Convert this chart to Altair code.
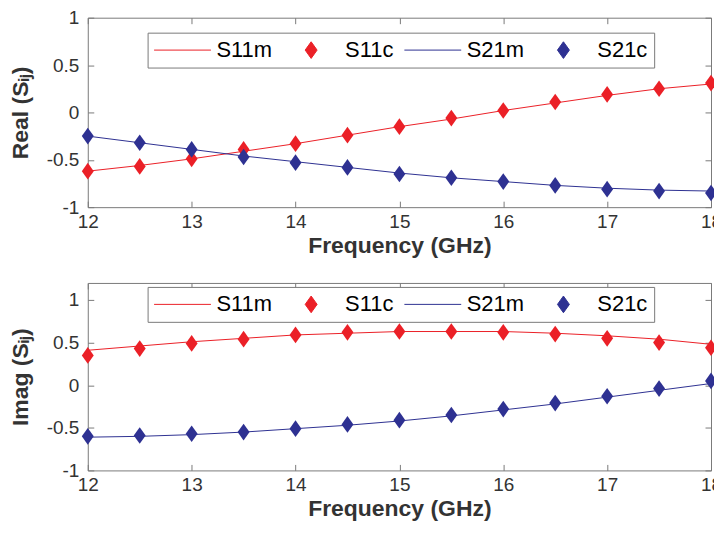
import altair as alt
import pandas as pd

# ---- data ----
freq = [12.0, 12.5, 13.0, 13.5, 14.0, 14.5, 15.0, 15.5, 16.0, 16.5, 17.0, 17.5, 18.0]

real_s11_meas = [-0.62, -0.56, -0.49, -0.41, -0.33, -0.24, -0.15, -0.07, 0.02, 0.10, 0.18, 0.25, 0.30]
real_s11_calc = [-0.62, -0.57, -0.49, -0.39, -0.33, -0.24, -0.15, -0.06, 0.02, 0.11, 0.19, 0.25, 0.31]
real_s21_meas = [-0.25, -0.32, -0.39, -0.46, -0.52, -0.58, -0.64, -0.69, -0.73, -0.77, -0.80, -0.82, -0.83]
real_s21_calc = [-0.25, -0.32, -0.39, -0.47, -0.53, -0.58, -0.65, -0.69, -0.73, -0.77, -0.81, -0.83, -0.85]

imag_s11_meas = [0.41, 0.46, 0.51, 0.55, 0.59, 0.61, 0.63, 0.63, 0.63, 0.61, 0.58, 0.54, 0.48]
imag_s11_calc = [0.35, 0.43, 0.49, 0.54, 0.59, 0.62, 0.63, 0.63, 0.62, 0.60, 0.55, 0.50, 0.44]
imag_s21_meas = [-0.61, -0.60, -0.58, -0.55, -0.51, -0.47, -0.42, -0.36, -0.29, -0.22, -0.14, -0.06, 0.02]
imag_s21_calc = [-0.60, -0.59, -0.57, -0.55, -0.51, -0.46, -0.41, -0.35, -0.28, -0.21, -0.13, -0.04, 0.05]

series_names = ["S11m", "S11c", "S21m", "S21c"]
series_colors = ["#EB2027", "#EB2027", "#2E3192", "#2E3192"]
x_ticks = [12, 13, 14, 15, 16, 17, 18]
y_ticks = [-1, -0.5, 0, 0.5, 1]

# ---- styling ----
W = 625
FONT = "Liberation Sans"
FRAME = "#7a7a7a"
TEXT = "#333333"
DIAMOND = "M0,-0.293L0.21,0L0,0.293L-0.21,0Z"
SYM = 3249


def tick_axis(orient, offset, values):
    return alt.Axis(orient=orient, offset=offset, values=values, labels=False,
                    title=None, domain=False, grid=False, ticks=True,
                    tickSize=6, tickColor=FRAME, tickWidth=1)


def panel(s11m, s11c, s21m, s21c, ytitle, ydomain, height, legend_y):
    n = len(freq)
    lines = pd.DataFrame({"f": freq * 2, "v": s11m + s21m,
                          "series": ["S11m"] * n + ["S21m"] * n})
    pts = pd.DataFrame({"f": freq * 2, "v": s11c + s21c,
                        "series": ["S11c"] * n + ["S21c"] * n})

    xs = alt.Scale(domain=[12, 18], nice=False, zero=False)
    ys = alt.Scale(domain=ydomain, nice=False, zero=False)
    color_scale = alt.Scale(domain=series_names, range=series_colors)
    shape_scale = alt.Scale(domain=series_names,
                            range=["stroke", DIAMOND, "stroke", DIAMOND])

    legend = alt.Legend(orient="none", legendX=60, legendY=legend_y,
                        direction="horizontal", columns=4, title=None,
                        labelFont=FONT, labelFontSize=22, labelColor="black",
                        symbolSize=SYM, symbolStrokeWidth=1,
                        strokeColor=FRAME, fillColor="white", padding=6,
                        clipHeight=23, columnPadding=10, labelOffset=5)

    main_x = alt.Axis(orient="bottom", values=x_ticks, title="Frequency (GHz)",
                      ticks=False, domain=False, grid=False, labelFlush=False,
                      labelOverlap=False, labelExpr="datum.value + ''",
                      labelFont=FONT, labelFontSize=19, labelColor=TEXT,
                      labelPadding=5, titleFont=FONT, titleFontSize=23,
                      titleFontWeight="bold", titleColor=TEXT, titlePadding=3)
    main_y = alt.Axis(orient="left", values=y_ticks, title=ytitle,
                      ticks=False, domain=False, grid=False, labelFlush=False,
                      labelOverlap=False, labelExpr="datum.value + ''",
                      labelFont=FONT, labelFontSize=19, labelColor=TEXT,
                      labelPadding=9, titleFont=FONT, titleFontSize=23,
                      titleFontWeight="bold", titleColor=TEXT, titlePadding=14)

    l1 = alt.Chart(lines).mark_line(strokeWidth=1).encode(
        x=alt.X("f:Q", scale=xs, axis=main_x),
        y=alt.Y("v:Q", scale=ys, axis=main_y),
        stroke=alt.Stroke("series:N", scale=color_scale, legend=legend),
    )
    l2 = alt.Chart(pts).mark_point(filled=True, size=SYM, opacity=1).encode(
        x=alt.X("f:Q", axis=tick_axis("top", -height, x_ticks)),
        y=alt.Y("v:Q", axis=tick_axis("right", -W, y_ticks)),
        fill=alt.Fill("series:N", scale=color_scale, legend=legend),
        shape=alt.Shape("series:N", scale=shape_scale, legend=legend),
    )
    l3 = alt.Chart(lines).mark_line(strokeOpacity=0).encode(
        x=alt.X("f:Q", axis=tick_axis("bottom", -height, x_ticks)),
        y=alt.Y("v:Q", axis=tick_axis("left", -W, y_ticks)),
        detail="series:N",
    )
    return alt.layer(l1, l2, l3).resolve_axis(
        x="independent", y="independent").properties(width=W, height=height)


top = panel(real_s11_meas, real_s11_calc, real_s21_meas, real_s21_calc,
            "Real (Sᵢⱼ)", [-1, 1], 190, 15)
bottom = panel(imag_s11_meas, imag_s11_calc, imag_s21_meas, imag_s21_calc,
               "Imag (Sᵢⱼ)", [-1, 1.2], 188, 4)

chart = alt.vconcat(top, bottom, spacing=24).resolve_scale(
    stroke="independent", fill="independent", shape="independent"
).resolve_legend(
    stroke="independent", fill="independent", shape="independent"
).properties(
    padding={"left": 0, "top": -1, "right": -9, "bottom": 0},
    background="white",
).configure_view(stroke=FRAME, strokeWidth=1)

chart.save("out.html", embed_options={"renderer": "svg", "actions": False})
